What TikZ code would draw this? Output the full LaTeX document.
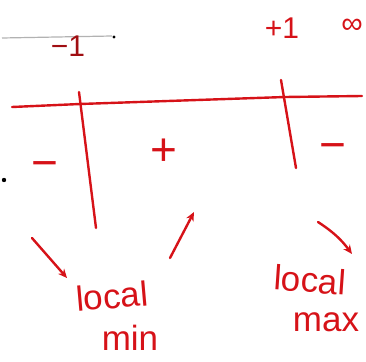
\documentclass[tikz,border=0pt]{standalone}
\usepackage{fontspec}
\setmainfont{Liberation Sans}
\usepackage{tikz}
\usetikzlibrary{positioning, arrows.meta}
\definecolor{pen}{RGB}{214,18,24}

\begin{document}
\begin{tikzpicture}[x=1pt, y=-1pt,
    ink/.style={pen, line width=2.4pt, line cap=round},
    penmark/.style={text=pen, inner sep=0pt},
    sgn/.style={penmark, font=\fontsize{46}{46}\selectfont},
    num/.style={penmark, font=\fontsize{30}{32}\selectfont},
    word/.style={penmark, font=\fontsize{35}{37}\selectfont},
    >={Stealth[length=9pt, width=8pt]}
    ]
\useasboundingbox (0,0) rectangle (366,361);
% faint pencil line
\draw[gray!60, line width=1.2pt] (2,38) -- (112,36);
\fill (114,37) circle (1.6pt);
\fill (4,180) circle (2.2pt);

\node[num, text=pen!75!black] (mone) at (68,46) {−1};
\node[num] (pone) at (282,28) {+1};
\node[num] (inf) at (352,26) {∞};

% number line
\coordinate (left) at (12,107);
\coordinate (right) at (362,96);
\draw[ink] (left) -- (80,104) -- (285,97) -- (right);
\coordinate (t1top) at (79,92);
\coordinate (t1bot) at (96,228);
\coordinate (t2top) at (281,80);
\coordinate (t2bot) at (296,168);
\draw[ink] (t1top) -- (t1bot);
\draw[ink] (t2top) -- (t2bot);

\node[sgn] (s1) at (45,170) {−};
\node[sgn] (s2) at (164,152) {+};
\node[sgn] (s3) at (333,152) {−};

\node[word, rotate=5] (lmin) at (112,296) {local};
\node[word] (min) at (130,338) {min};
\node[word, rotate=-4] (lmax) at (310,280) {local};
\node[word] (max) at (326,322) {max};

\coordinate (a1) at (32,238);
\coordinate (a1e) at (67,278);
\coordinate (a2) at (170,258);
\coordinate (a2e) at (194,212);
\coordinate (a3) at (318,222);
\coordinate (a3e) at (352,254);
\draw[ink, ->] (a1) -- (a1e);
\draw[ink, ->] (a2) -- (a2e);
\draw[ink, ->] (a3) to[bend left=10] (a3e);
\end{tikzpicture}
\end{document}
